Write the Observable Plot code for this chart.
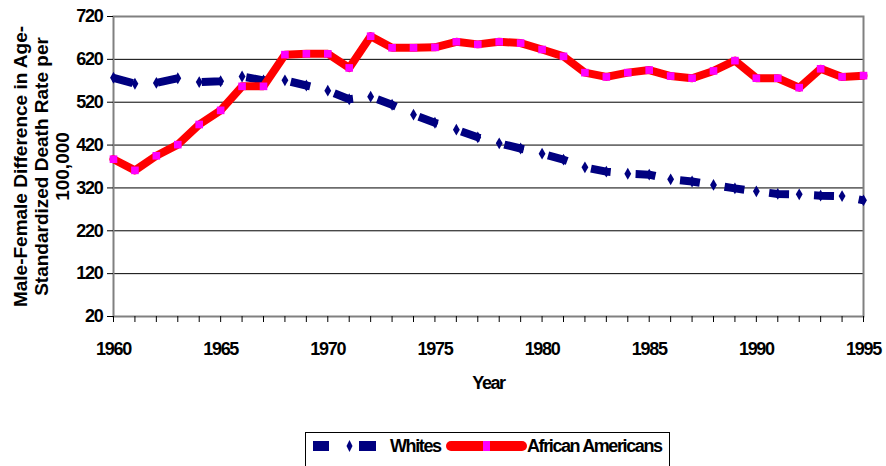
<!DOCTYPE html>
<html><head><meta charset="utf-8">
<script src="https://cdn.jsdelivr.net/npm/d3@7"></script>
<script src="https://cdn.jsdelivr.net/npm/@observablehq/plot@0.6"></script>
<style>
body{margin:0;background:#fff;overflow:hidden;font-family:"Liberation Sans",Arial,sans-serif;}
#chart svg{display:block}
g[aria-label="x-axis tick label"] text, g[aria-label="y-axis tick label"] text{letter-spacing:-1.3px}
#legend{position:absolute;left:305px;top:432px;width:365px;height:40px;border:1px solid #000;box-sizing:border-box;background:#fff}
#legend svg{display:block}
</style></head><body>
<div id="chart"></div>
<div id="legend"></div>
<script>
const years = [1960,1961,1962,1963,1964,1965,1966,1967,1968,1969,1970,1971,1972,1973,1974,1975,1976,1977,1978,1979,1980,1981,1982,1983,1984,1985,1986,1987,1988,1989,1990,1991,1992,1993,1994,1995];
const whites = [577,563,565,576,567,569,580,571,571,559,547,527,533,514,491,472,456,438,424,412,400,386,368,358,353,351,340,335,327,319,312,306,305,302,301,291];
const africanAmericans = [387,361,395,421,468,501,557,557,631,633,633,600,674,647,647,648,661,655,661,658,643,627,589,579,589,595,581,576,593,617,576,576,554,598,579,582];
const yTicks = [20,120,220,320,420,520,620,720];
const gridValues = [120,220,320,420,520,620];
const xLabels = [1960,1965,1970,1975,1980,1985,1990,1995];
const seriesNames = ["Whites","African Americans"];
const yTitle = "Male-Female Difference in Age-\nStandardized Death Rate per\n100,000";
const xTitle = "Year";

const whiteRows = years.map((y,i)=>({year:y,value:whites[i]}));
const aaRows = years.map((y,i)=>({year:y,value:africanAmericans[i]}));

const plot = Plot.plot({
  width:886, height:425,
  marginLeft:113, marginRight:23, marginTop:16, marginBottom:109,
  style:{fontFamily:'"Liberation Sans", Arial, sans-serif', fontSize:"18px", fontWeight:"bold", color:"#000", background:"#fff", overflow:"visible"},
  x:{domain:[1960,1995]},
  y:{domain:[20,720]},
  marks:[
    Plot.ruleY(gridValues,{stroke:"#000",strokeWidth:1}),
    Plot.frame({stroke:"#808080",strokeWidth:2}),
    Plot.axisY({ticks:yTicks,tickSize:6,tickPadding:5,label:null}),
    Plot.axisX({ticks:years,tickSize:6,tickPadding:20,label:null,tickFormat:d=>xLabels.includes(d)?String(d):""}),
    Plot.line(whiteRows,{x:"year",y:"value",stroke:"#000080",strokeWidth:8,strokeDasharray:"20,25",strokeLinecap:"butt",strokeLinejoin:"miter"}),
    Plot.dot(whiteRows,{x:"year",y:"value",symbol:"diamond",r:3.6,fill:"#000080",stroke:null}),
    Plot.line(aaRows,{x:"year",y:"value",stroke:"#ff0000",strokeWidth:8,strokeLinejoin:"round",strokeLinecap:"round"}),
    Plot.dot(aaRows,{x:"year",y:"value",symbol:"square",r:4.3,fill:"#ff00ff",stroke:null}),
    Plot.text([yTitle],{frameAnchor:"left",dx:-72,rotate:-90,textAnchor:"middle",lineAnchor:"middle",lineHeight:1.1,fontSize:19,fontWeight:"bold"}),
    Plot.text([xTitle],{frameAnchor:"bottom",dy:67,textAnchor:"middle",lineAnchor:"middle",fontSize:18,fontWeight:"bold"})
  ]
});
d3.select(plot).selectAll("text").filter(function(){return this.textContent===xTitle;}).style("letter-spacing","-1.4px");
document.getElementById("chart").appendChild(plot);

const lg = d3.select("#legend").append("svg").attr("width",363).attr("height",38)
  .style("font-family",'"Liberation Sans", Arial, sans-serif').style("font-weight","bold").style("font-size","18px");
lg.append("rect").attr("x",7).attr("y",8).attr("width",16).attr("height",10).attr("fill","#000080");
lg.append("path").attr("d","M43.5,7L46.5,13L43.5,19L40.5,13Z").attr("fill","#000080");
lg.append("rect").attr("x",53).attr("y",8).attr("width",17).attr("height",10).attr("fill","#000080");
lg.append("text").attr("x",84).attr("y",13).attr("dy","0.35em").style("letter-spacing","-1.4px").text(seriesNames[0]);
lg.append("line").attr("x1",145).attr("x2",216).attr("y1",13).attr("y2",13).attr("stroke","#ff0000").attr("stroke-width",10).attr("stroke-linecap","round");
lg.append("rect").attr("x",177).attr("y",8).attr("width",7).attr("height",10).attr("fill","#ff00ff");
lg.append("text").attr("x",221).attr("y",13).attr("dy","0.35em").style("letter-spacing","-1.4px").text(seriesNames[1]);
</script>
</body></html>
